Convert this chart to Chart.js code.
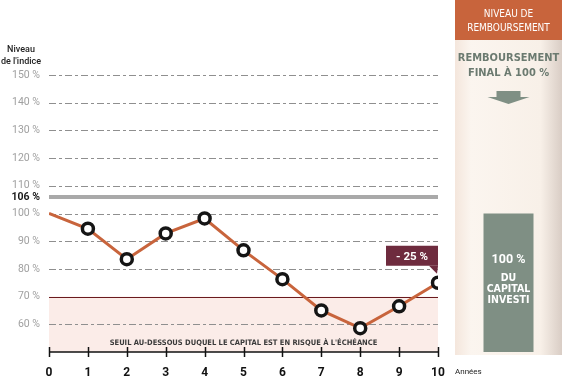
<!DOCTYPE html>
<html>
<head>
<meta charset="utf-8">
<script src="https://cdn.jsdelivr.net/npm/chart.js@4.4.0/dist/chart.umd.min.js"></script>
<style>
  html, body { margin: 0; padding: 0; background: #fff; }
  #wrap { width: 566px; height: 385px; }
</style>
</head>
<body>
<div id="wrap"><canvas id="chart" width="566" height="385"></canvas></div>
<script>
    "use strict";

    // Data
    var years = [0, 1, 2, 3, 4, 5, 6, 7, 8, 9, 10];
    var indexLevel = [100, 94.5, 83.5, 92.8, 98.2, 86.7, 76.3, 65, 58.6, 66.5, 75];
    var yTicks = [60, 70, 80, 90, 100, 106, 110, 120, 130, 140, 150];
    var barrierLevel = 70;
    var autocallLevel = 106;
    var refundLevel = 100;
    var finalLabel = "- 25 %";

    var NARROW = "'Liberation Sans Narrow', 'DejaVu Sans Condensed', 'Roboto', sans-serif";
    var SANS = "'Roboto', 'Liberation Sans', sans-serif";
    var ORANGE = "#c8643c";
    var SAGE = "#7f8f84";
    var MAROON = "#6e2b3e";

    // Decorations drawn from the scales
    var decor = {
        id: "decor",
        beforeDatasetsDraw: function (chart) {
            var c = chart.ctx, a = chart.chartArea;
            var x = chart.scales.x, y = chart.scales.y;
            c.save();
            // risk zone
            c.fillStyle = "#fbece8";
            c.fillRect(a.left, y.getPixelForValue(barrierLevel), a.right - a.left, a.bottom - y.getPixelForValue(barrierLevel));
            // dashed grid
            c.strokeStyle = "#8f8f8f";
            c.lineWidth = 1;
            c.setLineDash([7, 3, 3, 3]);
            yTicks.forEach(function (v) {
                if (v === barrierLevel || v === autocallLevel) return;
                var py = Math.round(y.getPixelForValue(v)) + 0.5;
                c.beginPath(); c.moveTo(a.left, py); c.lineTo(a.right, py); c.stroke();
            });
            c.setLineDash([]);
            // 106 line
            c.strokeStyle = "#a9a9a9";
            c.lineWidth = 4;
            var p106 = y.getPixelForValue(autocallLevel);
            c.beginPath(); c.moveTo(a.left, p106); c.lineTo(a.right, p106); c.stroke();
            // barrier line
            c.strokeStyle = "#6a1a1e";
            c.lineWidth = 1;
            var p70 = Math.round(y.getPixelForValue(barrierLevel)) + 0.5;
            c.beginPath(); c.moveTo(a.left, p70); c.lineTo(a.right, p70); c.stroke();
            // barrier caption
            c.fillStyle = "#3a3a3a";
            c.font = "bold 7.5px " + NARROW;
            c.textAlign = "center";
            c.textBaseline = "middle";
            c.fillText("SEUIL AU-DESSOUS DUQUEL LE CAPITAL EST EN RISQUE À L'ÉCHÉANCE", (a.left + a.right) / 2, a.bottom - 9);
            // x axis with ticks
            c.strokeStyle = "#111";
            c.lineWidth = 1.5;
            c.beginPath(); c.moveTo(a.left, a.bottom); c.lineTo(a.right, a.bottom); c.stroke();
            years.forEach(function (v) {
                var px = Math.round(x.getPixelForValue(v)) + 0.5;
                c.beginPath(); c.moveTo(px, a.bottom - 5); c.lineTo(px, a.bottom + 5); c.stroke();
            });
            c.restore();
        },
        afterDatasetsDraw: function (chart) {
            var c = chart.ctx, a = chart.chartArea;
            var x = chart.scales.x, y = chart.scales.y;
            var last = years.length - 1;
            var px = x.getPixelForValue(years[last]);
            var py = y.getPixelForValue(indexLevel[last]);
            c.save();
            // final performance bubble
            var bw = 52, bh = 20, bb = py - 17;
            c.fillStyle = MAROON;
            c.fillRect(px - bw, bb - bh, bw, bh);
            c.beginPath();
            c.moveTo(px - 9, bb); c.lineTo(px, bb); c.lineTo(px - 1, bb + 8); c.closePath(); c.fill();
            c.fillStyle = "#fff";
            c.font = "bold 11.5px " + SANS;
            c.textAlign = "center";
            c.textBaseline = "middle";
            c.fillText(finalLabel, px - bw / 2, bb - bh / 2 + 1);

            // y axis title
            c.fillStyle = "#222";
            c.font = "500 9px " + SANS;
            c.fillText("Niveau", 21, 50);
            c.fillText("de l'indice", 21, 62);

            // x axis title
            c.textAlign = "left";
            c.font = "8px " + SANS;
            c.fillText("Années", 455, 372);

            // right panel
            var L = 455, R = 562, B = 355;
            var g = c.createLinearGradient(L, 0, R, 0);
            g.addColorStop(0, "#f4e6dc");
            g.addColorStop(0.15, "#fbf5ef");
            g.addColorStop(0.8, "#f8f0e8");
            g.addColorStop(1, "#d9cdc5");
            c.fillStyle = g;
            c.fillRect(L, 0, R - L, B);
            c.fillStyle = ORANGE;
            c.fillRect(L, 0, R - L, 40);
            var cx = (L + R) / 2;
            c.textAlign = "center";
            c.fillStyle = "#fff";
            c.font = "10px " + NARROW;
            c.fillText("NIVEAU DE", cx, 14);
            c.fillText("REMBOURSEMENT", cx, 28);
            c.fillStyle = "#6b7a70";
            c.font = "bold 11px " + NARROW;
            c.fillText("REMBOURSEMENT", cx, 58);
            c.fillText("FINAL À 100 %", cx, 73);
            // arrow
            c.fillStyle = SAGE;
            c.fillRect(cx - 12, 91, 24, 7);
            c.beginPath();
            c.moveTo(cx - 21, 97); c.lineTo(cx + 21, 97); c.lineTo(cx, 104); c.closePath(); c.fill();
            // refund bar at 100 %
            var top = y.getPixelForValue(refundLevel);
            c.fillRect(cx - 25, top, 50, a.bottom - top);
            c.fillStyle = "#fff";
            c.font = "bold 12.5px " + SANS;
            c.fillText("100 %", cx, 260);
            c.font = "bold 10.5px " + NARROW;
            c.fillText("DU", cx, 278);
            c.fillText("CAPITAL", cx, 289);
            c.fillText("INVESTI", cx, 300);
            c.restore();
        }
    };

    var ctx = document.getElementById("chart").getContext("2d");
    var myChart = new Chart(ctx, {
        type: "line",
        data: {
            datasets: [{
                data: years.map(function (yr, i) { return {x: yr, y: indexLevel[i]}; }),
                borderColor: ORANGE,
                borderWidth: 3,
                backgroundColor: "#fff",
                pointBorderColor: "#151515",
                pointBackgroundColor: "#fff",
                pointBorderWidth: 3.5,
                pointRadius: function (c) { return c.dataIndex === 0 ? 0 : 5.5; },
                pointHoverRadius: 5.5,
                tension: 0,
                fill: false
            }]
        },
        options: {
            responsive: false,
            animation: false,
            layout: { padding: { top: 75, right: 128, left: 0, bottom: 0 } },
            plugins: { legend: { display: false }, tooltip: { enabled: false } },
            scales: {
                x: {
                    type: "linear",
                    min: 0, max: 10,
                    grid: { display: false, drawTicks: false },
                    border: { display: false },
                    afterFit: function (s) { s.height = 33; },
                    ticks: {
                        stepSize: 1,
                        padding: 14,
                        color: "#111",
                        font: { family: "Roboto", size: 12, weight: "bold" }
                    }
                },
                y: {
                    min: 50, max: 150,
                    grid: { display: false, drawTicks: false },
                    border: { display: false },
                    afterFit: function (s) { s.width = 49; },
                    afterBuildTicks: function (s) {
                        s.ticks = yTicks.map(function (v) { return {value: v}; });
                    },
                    ticks: {
                        padding: 9,
                        callback: function (v) { return v + " %"; },
                        color: function (c) { return c.tick && c.tick.value === autocallLevel ? "#1a1a1a" : "#a0a0a0"; },
                        font: function (c) {
                            var b = c.tick && c.tick.value === autocallLevel;
                            return { family: "Roboto", size: b ? 10.5 : 10.5, weight: b ? "bold" : "normal" };
                        }
                    }
                }
            }
        },
        plugins: [decor]
    });
</script>
</body>
</html>
